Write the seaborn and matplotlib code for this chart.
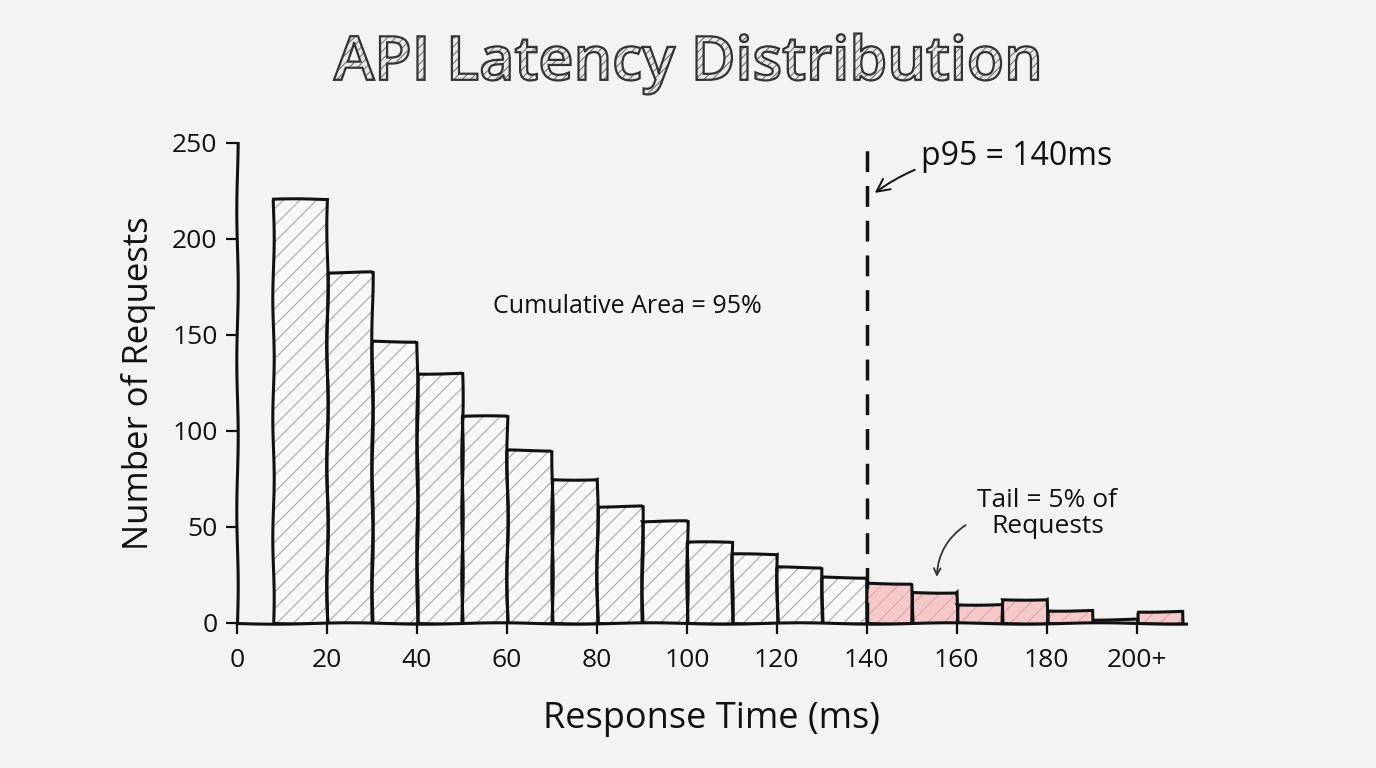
import numpy as np
import seaborn as sns
import matplotlib
matplotlib.use('Agg')
import matplotlib.pyplot as plt
from matplotlib.textpath import TextPath
from matplotlib.patches import PathPatch
from matplotlib.font_manager import FontProperties
from matplotlib.transforms import Affine2D

# data
main_edges = [8, 20, 30, 40, 50, 60, 70, 80, 90, 100, 110, 120, 130, 140]
main_counts = [221, 183, 147, 130, 108, 90, 75, 61, 53, 42, 36, 29, 24]
tail_edges = [140, 150, 160, 170, 180, 190, 200, 210]
tail_counts = [21, 16, 10, 12.5, 7, 2, 6]
x_ticks = [0, 20, 40, 60, 80, 100, 120, 140, 160, 180, 200]
x_tick_labels = ['0', '20', '40', '60', '80', '100', '120', '140', '160', '180', '200+']
y_ticks = [0, 50, 100, 150, 200, 250]
p95 = 140

bg = '#f3f3f1'
sns.set_theme(style='white')
plt.rcParams['font.family'] = ['Open Sans', 'DejaVu Sans']
plt.rcParams['hatch.linewidth'] = 0.8

fig = plt.figure(figsize=(13.76, 7.68), dpi=100, facecolor=bg)
ax = fig.add_axes([237 / 1376, 1 - 623 / 768, (1186 - 237) / 1376, (623 - 143) / 768])
ax.set_facecolor(bg)


def draw_bars(edges, counts, fill, hatch_col):
    # filled + hatched bars first, then a black outline on top
    n0 = len(ax.patches)
    sns.histplot(x=edges[:-1], weights=counts, bins=edges, ax=ax,
                 color=fill, edgecolor=hatch_col, linewidth=0, alpha=1)
    for p in ax.patches[n0:]:
        p.set_hatch('//')
        p.set_facecolor(fill)
    n1 = len(ax.patches)
    sns.histplot(x=edges[:-1], weights=counts, bins=edges, ax=ax,
                 fill=False, color='#111111', linewidth=2.2)
    for p in ax.patches[n1:]:
        p.set_sketch_params(0.7, 120, 1)


draw_bars(main_edges, main_counts, '#f8f8f6', '#a8a8a8')
draw_bars(tail_edges, tail_counts, '#f3c9c9', '#e3a3a3')

# p95 line
ax.axvline(p95, ymin=0, ymax=1, color='#111111', lw=2.5, ls=(0, (6, 4)))

ax.set_xlim(0, 211)
ax.set_ylim(0, 250)
ax.set_xticks(x_ticks)
ax.set_xticklabels(x_tick_labels)
ax.set_yticks(y_ticks)
ax.tick_params(axis='both', which='both', direction='out', length=8, width=1.6,
               color='#111111', labelsize=19, labelcolor='#111111', pad=6,
               left=True, bottom=True)
ax.tick_params(axis='x', pad=10)
for side in ['top', 'right']:
    ax.spines[side].set_visible(False)
for side in ['left', 'bottom']:
    ax.spines[side].set_color('#111111')
    ax.spines[side].set_linewidth(2.2)
    ax.spines[side].set_sketch_params(0.7, 150, 1)

ax.set_xlabel('Response Time (ms)', fontsize=26, color='#111111', labelpad=20)
ax.set_ylabel('Number of Requests', fontsize=25, color='#111111', labelpad=12)

# annotations
ax.text(86.9, 164.6, 'Cumulative Area = 95%', fontsize=18, color='#111111',
        ha='center', va='center')
ax.annotate('p95 = 140ms', xy=(141.8, 224), xytext=(152, 243), fontsize=23,
            color='#111111', ha='left', va='center',
            arrowprops=dict(arrowstyle='->', color='#111111', lw=1.4,
                            connectionstyle='arc3,rad=0.2', shrinkA=2, shrinkB=0))
ax.text(180.2, 57, 'Tail = 5% of\nRequests', fontsize=19, color='#111111',
        ha='center', va='center', linespacing=1.05)
ax.annotate('', xy=(155.6, 24), xytext=(162, 51),
            arrowprops=dict(arrowstyle='->', color='#333333', lw=1.3,
                            connectionstyle='arc3,rad=0.25', shrinkA=0, shrinkB=0))

# hatched outline title, drawn as a text path in pixel coordinates
tax = fig.add_axes([0, 0, 1, 1], facecolor='none')
tax.set_xlim(0, 1376)
tax.set_ylim(0, 768)
tax.axis('off')
tp = TextPath((0, 0), 'API Latency Distribution',
              prop=FontProperties(family='Open Sans', weight='semibold'), size=100)
bb = tp.get_extents()
s = 704 / bb.width
tr = Affine2D().translate(-bb.x0 - bb.width / 2, -bb.y0 - bb.height / 2).scale(s).translate(686, 768 - 64)
title_path = tr.transform_path(tp)
tax.add_patch(PathPatch(title_path, facecolor='#e9e9e7', edgecolor='#777777',
                        hatch='////', lw=0))
tax.add_patch(PathPatch(title_path, facecolor='none', edgecolor='#333333', lw=1.6))

fig.savefig('out.png', dpi=100, facecolor=bg)
